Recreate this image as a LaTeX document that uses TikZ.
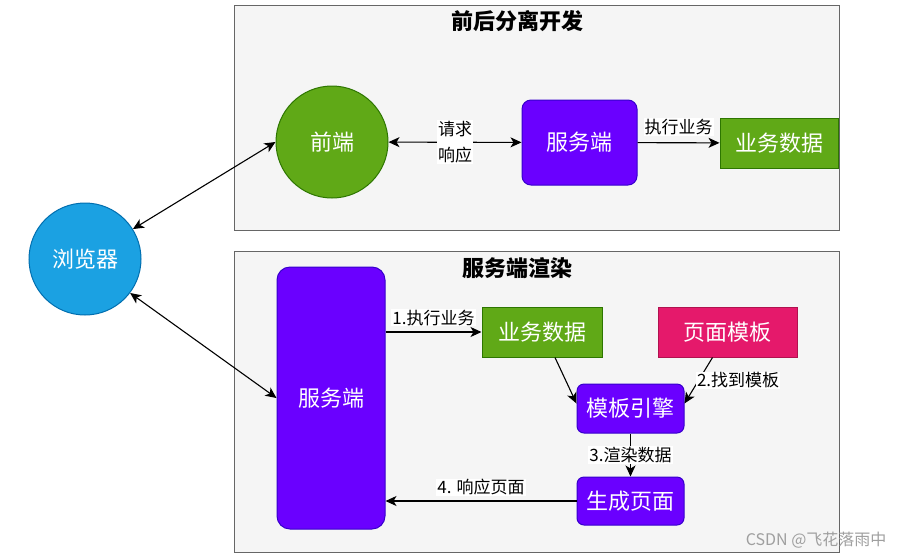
\documentclass[tikz,border=0pt]{standalone}
\usepackage{fontspec}
\setmainfont{Noto Sans CJK SC}
\usetikzlibrary{arrows.meta,positioning}
\definecolor{panelfill}{HTML}{F5F5F5}
\definecolor{panelline}{HTML}{666666}
\definecolor{greenfill}{HTML}{60A917}
\definecolor{greenline}{HTML}{2D7600}
\definecolor{violetfill}{HTML}{6A00FF}
\definecolor{violetline}{HTML}{3700CC}
\definecolor{bluefill}{HTML}{1BA1E2}
\definecolor{blueline}{HTML}{006EAF}
\definecolor{pinkfill}{HTML}{E5196B}
\definecolor{pinkline}{HTML}{B0124F}

\begin{document}
\begin{tikzpicture}[x=1pt,y=-1pt,
    panel/.style={draw=panelline,fill=panelfill,line width=1pt},
    heading/.style={font=\fontsize{22}{24}\selectfont\bfseries},
    big/.style={text=white,font=\fontsize{22}{24}\selectfont,line width=1pt,inner sep=0pt},
    svc/.style={big,draw=violetline,fill=violetfill,rounded corners=9pt},
    data/.style={big,draw=greenline,fill=greenfill},
    lbl/.style={fill=white,font=\fontsize{17}{26}\selectfont,inner sep=1pt,align=center},
    conn/.style={-{Stealth[length=11pt,width=10pt,inset=3pt]},line width=1.1pt},
    dbl/.style={{Stealth[length=11pt,width=10pt,inset=3pt]}-{Stealth[length=11pt,width=10pt,inset=3pt]},line width=1.1pt}]
  \useasboundingbox (0,0) rectangle (902,558);
  % the two panels
  \draw[panel] (234,5) rectangle (839,230);
  \draw[panel] (234,251) rectangle (839,552);
  \node[heading] (sepTitle) at (517,21) {前后分离开发};
  \node[heading] (ssrTitle) at (517,268) {服务端渲染};
  % browser
  \node[big,circle,draw=blueline,fill=bluefill,minimum size=112pt] (browser) at (85,259) {浏览器};
  % front-end / back-end split
  \node[big,circle,draw=greenline,fill=greenfill,minimum size=112pt] (front) at (332,142) {前端};
  \node[svc,minimum width=115pt,minimum height=85pt] (server) at (579.5,142.5) {服务端};
  \node[data,minimum width=118pt,minimum height=50pt] (topData) at (779,143) {业务数据};
  % server side rendering
  \node[svc,rounded corners=13pt,minimum width=108pt,minimum height=262pt] (ssrServer) at (331,398) {服务端};
  \node[data,minimum width=120pt,minimum height=50pt] (ssrData) at (542,332) {业务数据};
  \node[big,draw=pinkline,fill=pinkfill,minimum width=139pt,minimum height=50pt] (template) at (727.5,332) {页面模板};
  \node[svc,rounded corners=7pt,minimum width=107pt,minimum height=49pt] (engine) at (630.5,408.5) {模板引擎};
  \node[svc,rounded corners=7pt,minimum width=107pt,minimum height=48pt] (page) at (630.5,501) {生成页面};

  \draw[dbl] (browser.32) -- (front.west);
  \draw[dbl] (browser.-37) -- (ssrServer.west);
  \draw[dbl] (front) -- (server) node[midway,lbl] {请求\\响应};
  \draw[conn] (server) -- (topData) node[midway,lbl,above=6pt] {执行业务};

  \draw[conn] (ssrServer.east |- ssrData.west) -- (ssrData.west) node[midway,lbl,above=5pt] {1.执行业务};
  \draw[conn] ([xshift=-15pt]template.south) -- ([yshift=5pt]engine.east) node[midway,lbl,anchor=west,xshift=-3pt] {2.找到模板};
  \draw[conn] ([xshift=13pt]ssrData.south) -- ([yshift=5pt]engine.west);
  \draw[conn] (engine) -- (page) node[midway,lbl] {3.渲染数据};
  \draw[conn] (page.west) -- (page.west -| ssrServer.east) node[midway,lbl,above=4pt] {4. 响应页面};

  \node[text=gray!75,font=\fontsize{16}{18}\selectfont,anchor=east] (mark) at (890,540) {CSDN @飞花落雨中};
\end{tikzpicture}
\end{document}
